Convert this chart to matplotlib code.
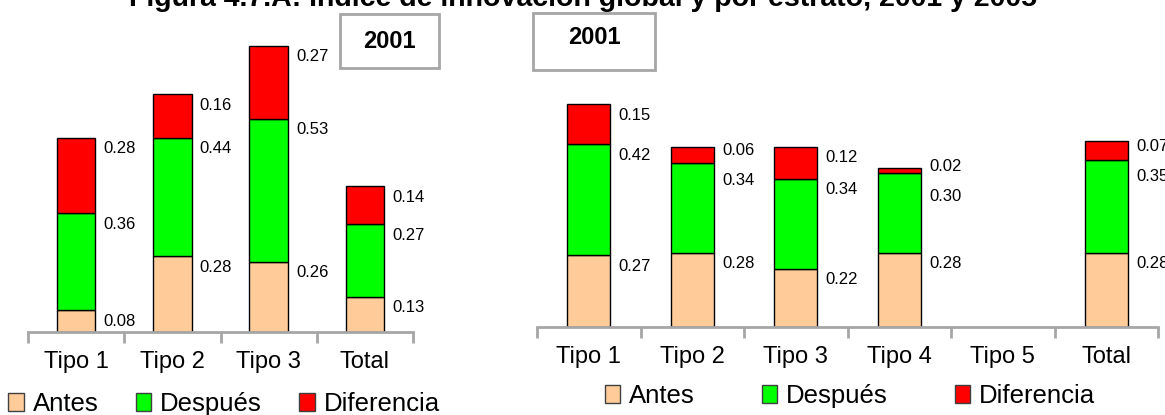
import matplotlib
matplotlib.use("Agg")
import matplotlib.pyplot as plt
from matplotlib.patches import Rectangle, Patch
import numpy as np

plt.rcParams['font.family'] = ['Liberation Sans', 'DejaVu Sans']

# data, left panel
cats_a = ['Tipo 1', 'Tipo 2', 'Tipo 3', 'Total']
antes_a = [0.08, 0.28, 0.26, 0.13]
despues_a = [0.36, 0.44, 0.53, 0.27]
dif_a = [0.28, 0.16, 0.27, 0.14]

# data, right panel (Tipo 5 sin datos)
cats_b = ['Tipo 1', 'Tipo 2', 'Tipo 3', 'Tipo 4', 'Tipo 5', 'Total']
antes_b = [0.27, 0.28, 0.22, 0.28, np.nan, 0.28]
despues_b = [0.42, 0.34, 0.34, 0.30, np.nan, 0.35]
dif_b = [0.15, 0.06, 0.12, 0.02, np.nan, 0.07]

series_names = ['Antes', 'Después', 'Diferencia']
colors = ['#FFCC99', '#00FF00', '#FF0000']
grey = '#A6A6A6'

W, H = 1165, 415
fig = plt.figure(figsize=(W / 100, H / 100), dpi=100)


def px(x0, y0, w, h):
    # pixel box (from top-left) -> figure fraction rect
    return [x0 / W, 1 - (y0 + h) / H, w / W, h / H]


def panel(rect, cats, antes, despues, dif, width, ymax=1.2):
    ax = fig.add_axes(rect)
    ppu = rect[3] * H / ymax  # pixels per data unit
    x = np.arange(len(cats))
    stack = np.array([antes, despues, dif], dtype=float)
    tops = np.cumsum(np.nan_to_num(stack), axis=0)
    bottoms = tops - np.nan_to_num(stack)
    for vals, bot, col in zip(stack, bottoms, colors):
        ax.bar(x, vals, width, bottom=bot, color=col, edgecolor='black', linewidth=1)

    # labels to the right of each segment, pushed apart when too close
    gap = 30 / ppu
    for j in x:
        if np.isnan(stack[0, j]):
            continue
        ys = list(tops[:, j] - 11 / ppu)
        for i in range(1, 3):
            if ys[i] - ys[i - 1] < gap:
                mid = (ys[i] + ys[i - 1]) / 2
                ys[i - 1], ys[i] = mid - gap / 2, mid + gap / 2
        for i in range(3):
            ax.annotate(f'{stack[i, j]:.2f}', (j + width / 2, ys[i]), xytext=(8, 0),
                        textcoords='offset pixels', ha='left', va='center', fontsize=12)

    ax.set_xlim(-0.5, len(cats) - 0.5)
    ax.set_ylim(0, ymax)
    for s in ['left', 'right', 'top']:
        ax.spines[s].set_visible(False)
    ax.spines['bottom'].set_color(grey)
    ax.spines['bottom'].set_linewidth(2)
    ax.set_yticks([])
    ax.set_xticks(x)
    ax.set_xticklabels(cats, fontsize=17)
    ax.tick_params(axis='x', which='major', length=0, pad=14)
    ax.set_xticks(np.arange(len(cats) + 1) - 0.5, minor=True)
    ax.tick_params(axis='x', which='minor', length=8, width=2, color=grey)
    return ax


ax1 = panel(px(28, 8, 385, 324), cats_a, antes_a, despues_a, dif_a, 0.4)
ax2 = panel(px(537, 9, 621, 318), cats_b, antes_b, despues_b, dif_b, 0.42)

handles = [Patch(facecolor=c, edgecolor='#404040', linewidth=1) for c in colors]
fig.legend(handles, series_names, loc='center', bbox_to_anchor=(224 / W, 1 - 404 / H),
           ncol=3, frameon=False, fontsize=18.5, handlelength=0.6, handleheight=0.65,
           handletextpad=0.35, columnspacing=1.45, borderpad=0)
fig.legend(handles, series_names, loc='center', bbox_to_anchor=(850 / W, 1 - 396 / H),
           ncol=3, frameon=False, fontsize=18.5, handlelength=0.6, handleheight=0.65,
           handletextpad=0.35, columnspacing=2.6, borderpad=0)

# year boxes
for (bx, by, bw, bh), (tx, ty) in [((340, 14, 99, 54), (389, 41)),
                                    ((533, 13, 122, 57), (594, 37))]:
    fig.patches.append(Rectangle((bx / W, 1 - (by + bh) / H), bw / W, bh / H,
                                 transform=fig.transFigure, facecolor='white',
                                 edgecolor=grey, linewidth=2))
    fig.text(tx / W, 1 - ty / H, '2001', ha='center', va='center',
             fontsize=17, fontweight='bold')

# title, cut by the top edge
fig.text(583 / W, 1 - 6 / H, 'Figura 4.7.A: Índice de innovación global y por estrato, 2001 y 2005',
         ha='center', va='baseline', fontsize=20.5, fontweight='bold')

fig.savefig('out.png', dpi=100)
